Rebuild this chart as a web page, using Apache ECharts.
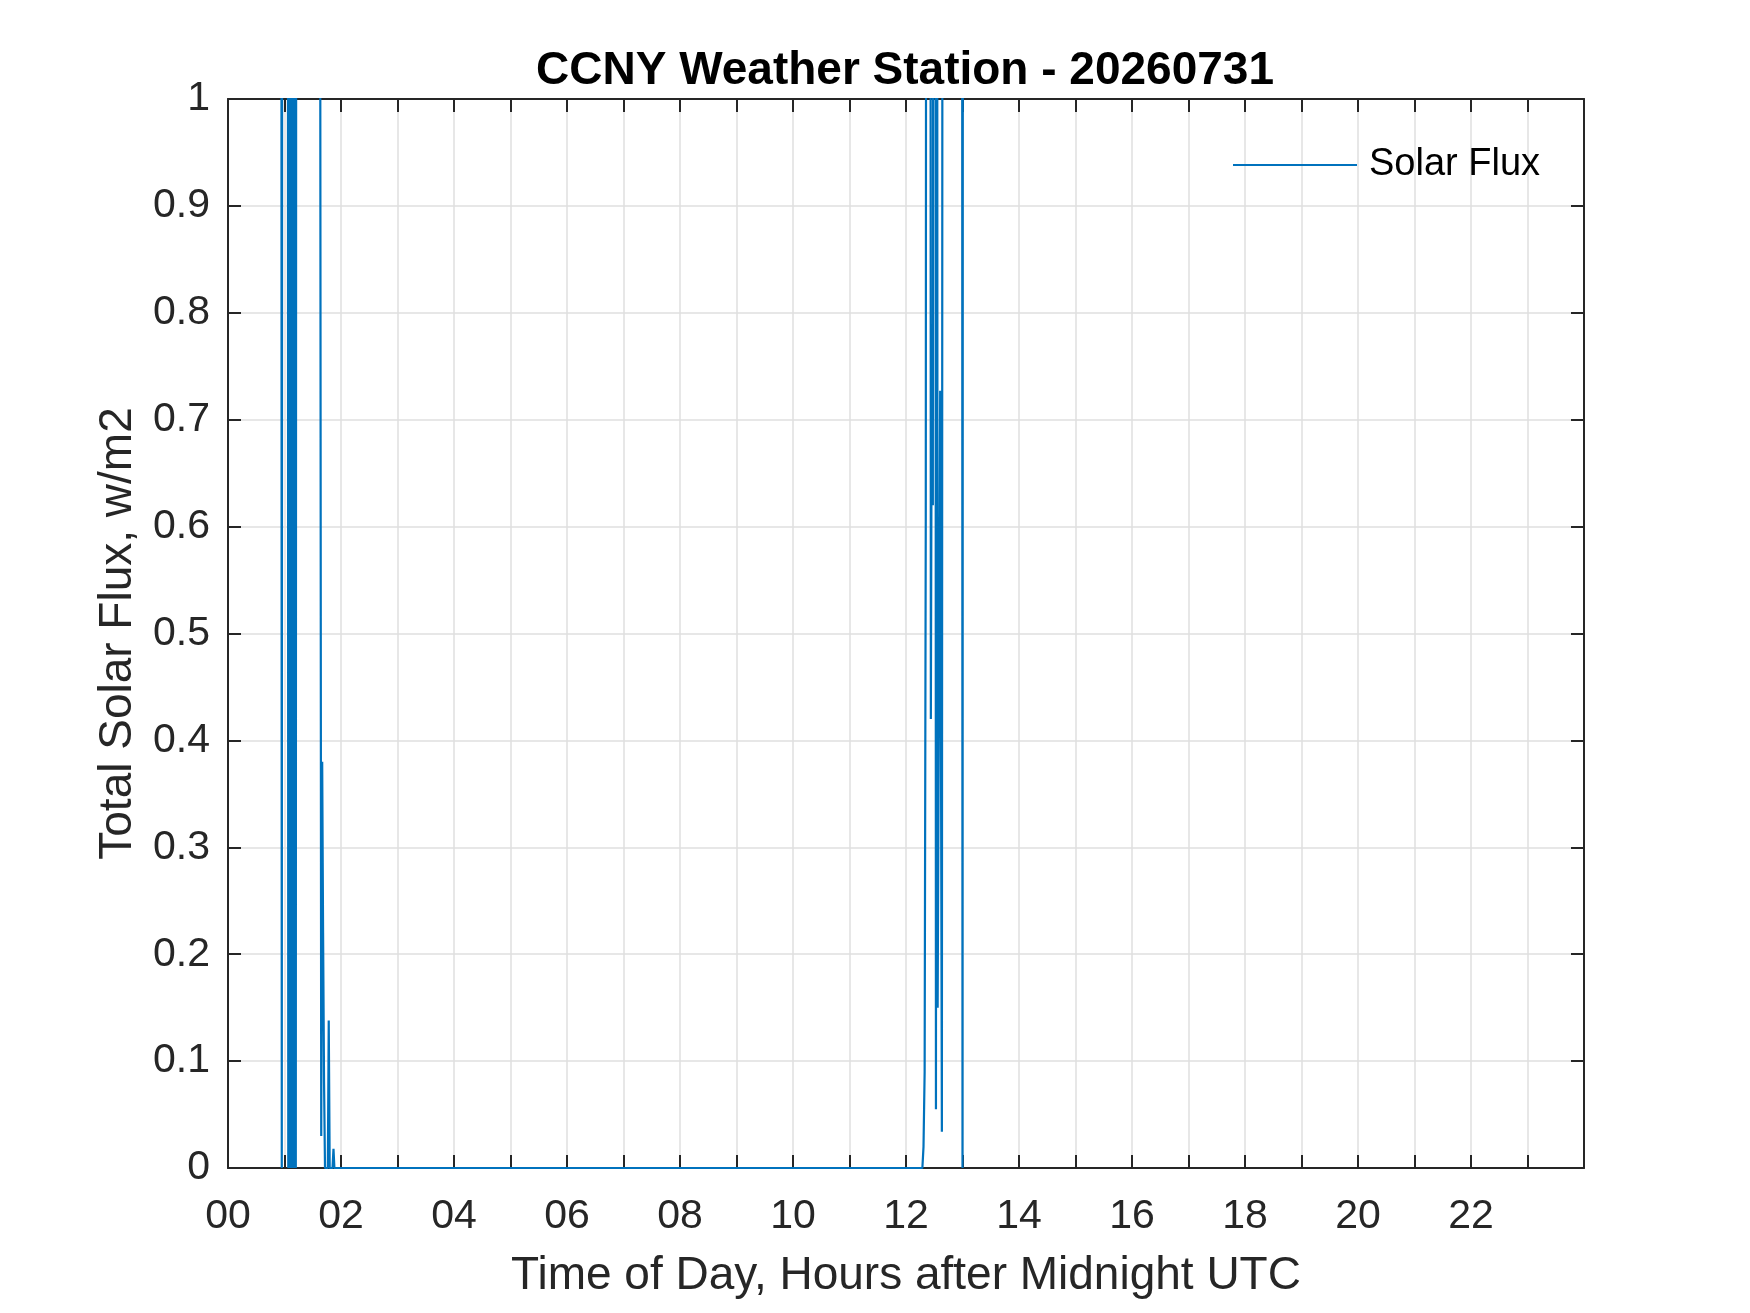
<!DOCTYPE html>
<html>
<head>
<meta charset="utf-8">
<script src="https://cdn.jsdelivr.net/npm/echarts@6/dist/echarts.min.js"></script>
<style>
html,body{margin:0;padding:0;background:#fff;}
#chart{width:1750px;height:1313px;}
</style>
</head>
<body>
<div id="chart"></div>
<script>
// Time of day (hours after midnight UTC)
const hours = [
  0.000, 0.935, 0.952, 0.968, 1.050, 1.067, 1.083,
  1.100, 1.117, 1.133, 1.150, 1.167, 1.183, 1.200, 1.217, 1.233,
  1.600, 1.633, 1.650, 1.667, 1.683, 1.700, 1.717, 1.750, 1.767, 1.783, 1.800,
  1.850, 1.867, 1.883,
  12.290, 12.310, 12.330, 12.350, 12.370, 12.400, 12.420,
  12.440, 12.455, 12.475, 12.490, 12.515, 12.530, 12.545, 12.560,
  12.605, 12.635, 12.660, 12.985, 13.000, 13.015, 24.000
];
// Total solar flux, w/m2 (values above 1 are off-scale in the reference)
const flux = [
  3.0, 3.0, 0.0, 3.0, 3.0, 0.0, 3.0,
  0.0, 3.0, 0.0, 3.0, 0.0, 3.0, 0.0, 3.0, 3.0,
  3.0, 3.0, 0.03, 0.38, 0.22, 0.08, 0.0, 0.0, 0.0, 0.138, 0.0,
  0.0, 0.018, 0.0,
  0.0, 0.02, 0.09, 0.61, 2.6, 1.5, 3.0,
  0.42, 0.74, 0.62, 2.5, 2.2, 0.055, 2.2, 0.15,
  0.727, 0.034, 3.0, 3.0, 0.0, 3.0, 3.0
];
const xTickLabels = ['00','02','04','06','08','10','12','14','16','18','20','22'];
const yTickLabels = ['0','0.1','0.2','0.3','0.4','0.5','0.6','0.7','0.8','0.9','1'];

const seriesData = hours.map((h, i) => [h, flux[i]]);
const FONT = "'Liberation Sans', Arial, Helvetica, sans-serif";
const AX = '#262626';

const chart = echarts.init(document.getElementById('chart'));
const baseX = {
  type: 'value', min: 0, max: 24, interval: 1,
  axisLine: { show: true, onZero: false, lineStyle: { color: AX, width: 2 } },
  axisTick: { show: true, inside: true, length: 13, lineStyle: { color: AX, width: 2 } },
  splitLine: { show: false }
};
const baseY = {
  type: 'value', min: 0, max: 1, interval: 0.1,
  axisLine: { show: true, onZero: false, lineStyle: { color: AX, width: 2 } },
  axisTick: { show: true, inside: true, length: 13, lineStyle: { color: AX, width: 2 } },
  splitLine: { show: false }
};
chart.setOption({
  backgroundColor: '#ffffff',
  animation: false,
  title: {
    text: 'CCNY Weather Station - 20260731',
    left: 900, top: 43, textAlign: 'center',
    textStyle: { fontFamily: FONT, fontSize: 46, fontWeight: 'bold', color: '#000' }
  },
  legend: {
    left: 1228, top: 141,
    icon: 'rect',
    itemWidth: 124, itemHeight: 2, itemGap: 21,
    textStyle: { fontFamily: FONT, fontSize: 38, color: '#000', padding: [10, 0, 0, 7] },
    data: ['Solar Flux']
  },
  grid: { left: 228, right: 166, top: 99, bottom: 145, containLabel: false },
  xAxis: [
    Object.assign({}, baseX, {
      position: 'bottom',
      name: 'Time of Day, Hours after Midnight UTC',
      nameLocation: 'middle', nameGap: 85,
      nameTextStyle: { fontFamily: FONT, fontSize: 46, color: AX },
      axisLabel: {
        show: true, margin: 28, fontFamily: FONT, fontSize: 41, color: AX,
        formatter: v => (v % 2 === 0 && v < 24) ? xTickLabels[v / 2] : ''
      },
      splitLine: { show: true, lineStyle: { color: '#dfdfdf', width: 1.5 } }
    }),
    Object.assign({}, baseX, { position: 'top', axisLabel: { show: false } })
  ],
  yAxis: [
    Object.assign({}, baseY, {
      position: 'left',
      name: 'Total Solar Flux, w/m2',
      nameLocation: 'middle', nameGap: 87, nameRotate: 90,
      nameTextStyle: { fontFamily: FONT, fontSize: 46, color: AX },
      axisLabel: {
        show: true, margin: 18, fontFamily: FONT, fontSize: 41, color: AX,
        formatter: v => yTickLabels[Math.round(v * 10)]
      },
      splitLine: { show: true, lineStyle: { color: '#dfdfdf', width: 1.5 } }
    }),
    Object.assign({}, baseY, { position: 'right', axisLabel: { show: false } })
  ],
  series: [{
    name: 'Solar Flux',
    type: 'line',
    xAxisIndex: 0, yAxisIndex: 0,
    data: seriesData,
    showSymbol: false, symbol: 'none',
    clip: true,
    lineStyle: { color: '#0072BD', width: 2.2 },
    itemStyle: { color: '#0072BD' },
    z: 5
  }]
});
</script>
</body>
</html>
